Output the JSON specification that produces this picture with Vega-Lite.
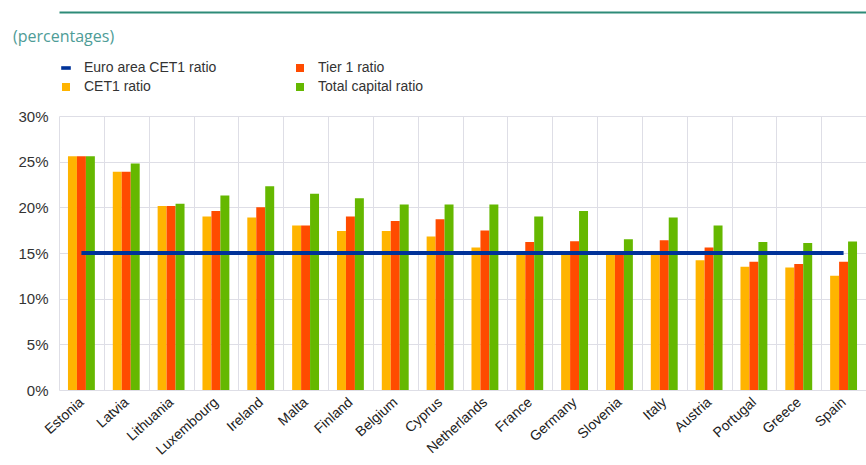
{
  "$schema": "https://vega.github.io/schema/vega-lite/v6.json",
  "width": 807,
  "height": 274,
  "autosize": {"type": "none"},
  "padding": {"left": 59, "top": 116, "right": 0, "bottom": 75},
  "background": "white",
  "config": {"view": {"stroke": null}, "font": "Liberation Sans"},
  "title": {"text": "(percentages)", "anchor": "start", "frame": "group", "dx": -46, "offset": -33, "color": "#4e9c97", "fontSize": 16, "font": "Open Sans", "fontWeight": "normal"},
  "data": {"values": [
    {"country": "Estonia", "series": "CET1 ratio", "value": 25.6},
    {"country": "Estonia", "series": "Tier 1 ratio", "value": 25.6},
    {"country": "Estonia", "series": "Total capital ratio", "value": 25.6},
    {"country": "Estonia", "series": "Euro area CET1 ratio", "value": 15},
    {"country": "Latvia", "series": "CET1 ratio", "value": 23.9},
    {"country": "Latvia", "series": "Tier 1 ratio", "value": 23.9},
    {"country": "Latvia", "series": "Total capital ratio", "value": 24.8},
    {"country": "Latvia", "series": "Euro area CET1 ratio", "value": 15},
    {"country": "Lithuania", "series": "CET1 ratio", "value": 20.15},
    {"country": "Lithuania", "series": "Tier 1 ratio", "value": 20.15},
    {"country": "Lithuania", "series": "Total capital ratio", "value": 20.4},
    {"country": "Lithuania", "series": "Euro area CET1 ratio", "value": 15},
    {"country": "Luxembourg", "series": "CET1 ratio", "value": 19.0},
    {"country": "Luxembourg", "series": "Tier 1 ratio", "value": 19.6},
    {"country": "Luxembourg", "series": "Total capital ratio", "value": 21.3},
    {"country": "Luxembourg", "series": "Euro area CET1 ratio", "value": 15},
    {"country": "Ireland", "series": "CET1 ratio", "value": 18.9},
    {"country": "Ireland", "series": "Tier 1 ratio", "value": 20.0},
    {"country": "Ireland", "series": "Total capital ratio", "value": 22.3},
    {"country": "Ireland", "series": "Euro area CET1 ratio", "value": 15},
    {"country": "Malta", "series": "CET1 ratio", "value": 18.0},
    {"country": "Malta", "series": "Tier 1 ratio", "value": 18.0},
    {"country": "Malta", "series": "Total capital ratio", "value": 21.5},
    {"country": "Malta", "series": "Euro area CET1 ratio", "value": 15},
    {"country": "Finland", "series": "CET1 ratio", "value": 17.4},
    {"country": "Finland", "series": "Tier 1 ratio", "value": 19.0},
    {"country": "Finland", "series": "Total capital ratio", "value": 21.0},
    {"country": "Finland", "series": "Euro area CET1 ratio", "value": 15},
    {"country": "Belgium", "series": "CET1 ratio", "value": 17.4},
    {"country": "Belgium", "series": "Tier 1 ratio", "value": 18.5},
    {"country": "Belgium", "series": "Total capital ratio", "value": 20.3},
    {"country": "Belgium", "series": "Euro area CET1 ratio", "value": 15},
    {"country": "Cyprus", "series": "CET1 ratio", "value": 16.8},
    {"country": "Cyprus", "series": "Tier 1 ratio", "value": 18.7},
    {"country": "Cyprus", "series": "Total capital ratio", "value": 20.3},
    {"country": "Cyprus", "series": "Euro area CET1 ratio", "value": 15},
    {"country": "Netherlands", "series": "CET1 ratio", "value": 15.6},
    {"country": "Netherlands", "series": "Tier 1 ratio", "value": 17.45},
    {"country": "Netherlands", "series": "Total capital ratio", "value": 20.3},
    {"country": "Netherlands", "series": "Euro area CET1 ratio", "value": 15},
    {"country": "France", "series": "CET1 ratio", "value": 14.9},
    {"country": "France", "series": "Tier 1 ratio", "value": 16.2},
    {"country": "France", "series": "Total capital ratio", "value": 19.0},
    {"country": "France", "series": "Euro area CET1 ratio", "value": 15},
    {"country": "Germany", "series": "CET1 ratio", "value": 14.9},
    {"country": "Germany", "series": "Tier 1 ratio", "value": 16.3},
    {"country": "Germany", "series": "Total capital ratio", "value": 19.6},
    {"country": "Germany", "series": "Euro area CET1 ratio", "value": 15},
    {"country": "Slovenia", "series": "CET1 ratio", "value": 14.9},
    {"country": "Slovenia", "series": "Tier 1 ratio", "value": 15.0},
    {"country": "Slovenia", "series": "Total capital ratio", "value": 16.5},
    {"country": "Slovenia", "series": "Euro area CET1 ratio", "value": 15},
    {"country": "Italy", "series": "CET1 ratio", "value": 14.9},
    {"country": "Italy", "series": "Tier 1 ratio", "value": 16.4},
    {"country": "Italy", "series": "Total capital ratio", "value": 18.9},
    {"country": "Italy", "series": "Euro area CET1 ratio", "value": 15},
    {"country": "Austria", "series": "CET1 ratio", "value": 14.2},
    {"country": "Austria", "series": "Tier 1 ratio", "value": 15.6},
    {"country": "Austria", "series": "Total capital ratio", "value": 18.0},
    {"country": "Austria", "series": "Euro area CET1 ratio", "value": 15},
    {"country": "Portugal", "series": "CET1 ratio", "value": 13.5},
    {"country": "Portugal", "series": "Tier 1 ratio", "value": 14.05},
    {"country": "Portugal", "series": "Total capital ratio", "value": 16.2},
    {"country": "Portugal", "series": "Euro area CET1 ratio", "value": 15},
    {"country": "Greece", "series": "CET1 ratio", "value": 13.4},
    {"country": "Greece", "series": "Tier 1 ratio", "value": 13.8},
    {"country": "Greece", "series": "Total capital ratio", "value": 16.1},
    {"country": "Greece", "series": "Euro area CET1 ratio", "value": 15},
    {"country": "Spain", "series": "CET1 ratio", "value": 12.5},
    {"country": "Spain", "series": "Tier 1 ratio", "value": 14.05},
    {"country": "Spain", "series": "Total capital ratio", "value": 16.25},
    {"country": "Spain", "series": "Euro area CET1 ratio", "value": 15}
  ]},
  "layer": [
    {
      "transform": [{"filter": "datum.series !== 'Euro area CET1 ratio'"}],
      "mark": {"type": "bar"},
      "encoding": {
        "x": {
          "field": "country", "type": "nominal",
          "scale": {"domain": ["Estonia","Latvia","Lithuania","Luxembourg","Ireland","Malta","Finland","Belgium","Cyprus","Netherlands","France","Germany","Slovenia","Italy","Austria","Portugal","Greece","Spain"], "paddingInner": 0, "paddingOuter": 0},
          "axis": {"title": null, "labelAngle": -42, "labelAlign": "right", "labelBaseline": "middle", "labelFontSize": 14, "labelColor": "#222222", "labelPadding": 10, "labelOverlap": false, "ticks": false, "domain": false, "grid": true, "gridColor": "#dedee6", "tickBand": "extent"}
        },
        "xOffset": {"field": "series", "type": "nominal", "scale": {"domain": ["CET1 ratio","Tier 1 ratio","Total capital ratio"], "paddingInner": 0, "paddingOuter": 1}},
        "y": {
          "field": "value", "type": "quantitative",
          "scale": {"domain": [0, 30]},
          "axis": {"title": null, "values": [0,5,10,15,20,25,30], "labelExpr": "datum.value + '%'", "labelFontSize": 15, "labelColor": "#333333", "labelPadding": 11, "ticks": false, "domain": false, "gridColor": "#dedee6"}
        },
        "color": {
          "field": "series", "type": "nominal",
          "scale": {"domain": ["Euro area CET1 ratio","Tier 1 ratio","CET1 ratio","Total capital ratio"], "range": ["#003299","#FF4B00","#FFB400","#65B800"]},
          "legend": {
            "orient": "none", "legendX": 0, "legendY": -55, "columns": 2, "direction": "horizontal", "title": null,
            "labelFontSize": 14, "labelColor": "#333333", "symbolSize": 64, "symbolType": "square", "labelOffset": 11,
            "rowPadding": 5, "columnPadding": 76, "padding": 0, "symbolStrokeWidth": 0,
            "encode": {"symbols": {"update": {"shape": {"signal": "datum.label === 'Euro area CET1 ratio' ? 'M-1.2,-0.45H1.2V0.45H-1.2Z' : 'square'"}}}}
          }
        }
      }
    },
    {
      "transform": [{"filter": "datum.series === 'Euro area CET1 ratio'"}],
      "mark": {"type": "line", "strokeWidth": 4, "color": "#003299"},
      "encoding": {
        "x": {
          "field": "country", "type": "nominal",
          "scale": {"domain": ["Estonia","Latvia","Lithuania","Luxembourg","Ireland","Malta","Finland","Belgium","Cyprus","Netherlands","France","Germany","Slovenia","Italy","Austria","Portugal","Greece","Spain"], "paddingInner": 0, "paddingOuter": 0},
          "axis": {"orient": "top", "offset": 104, "title": null, "labels": false, "ticks": false, "grid": false, "domain": true, "domainColor": "#2e8b78", "domainWidth": 2}
        },
        "y": {"field": "value", "type": "quantitative"}
      }
    }
  ],
  "resolve": {"axis": {"x": "independent"}}
}
